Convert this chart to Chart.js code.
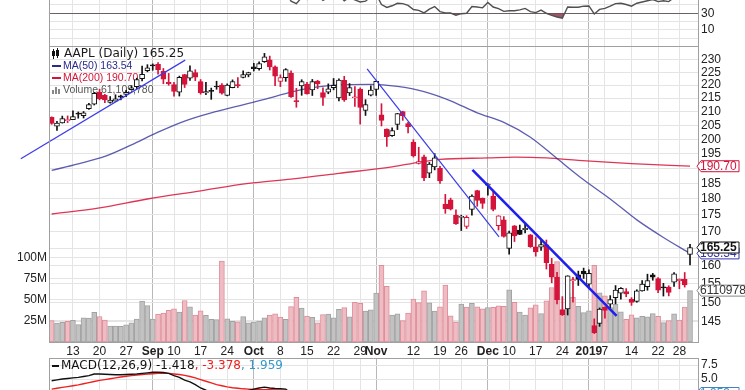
<!DOCTYPE html>
<html>
<head>
<meta charset="utf-8">
<script src="https://cdn.jsdelivr.net/npm/chart.js@4.4.1/dist/chart.umd.min.js"></script>
<style>
  body { margin:0; background:#fff; width:745px; height:390px; overflow:hidden; position:relative; }
  canvas { position:absolute; left:0; }
</style>
</head>
<body>
<canvas id="rsi" width="745" height="46" style="top:0"></canvas>
<canvas id="main" width="745" height="312" style="top:46px"></canvas>
<canvas id="macd" width="745" height="32" style="top:358px"></canvas>
<script>
// AAPL daily, 2018-08-07 .. 2019-01-30 (index 0 = Aug 7)
const opens = [207.85,204.61,205.83,206.64,206.98,209.43,208.49,211.01,212.70,217.34,
  216.05,213.35,213.90,215.85,216.39,218.25,219.38,222.47,225.72,227.62,
  228.19,225.44,221.08,220.18,217.25,224.16,222.74,224.96,221.38,217.03,
  217.74,219.47,220.01,216.07,218.99,220.23,223.04,224.01,227.16,226.46,
  229.25,229.98,227.17,221.44,222.86,224.68,213.77,219.65,220.39,218.17,
  221.53,217.10,217.30,219.03,215.08,221.83,216.95,215.15,218.43,210.42,
  216.13,218.29,208.82,203.59,201.22,205.25,209.98,205.55,199.00,191.63,
  193.90,188.39,190.50,190.00,178.37,179.73,174.94,174.24,171.51,176.73,
  182.66,180.29,184.46,180.95,171.76,173.49,165.00,171.66,170.40,170.49,
  169.00,165.45,165.38,166.00,160.40,156.86,148.15,148.30,155.84,157.50,
  158.53,154.89,143.98,144.53,148.70,149.56,151.29,152.50,152.88,150.85,
  150.27,153.08,154.20,157.50,156.41,154.15,154.11,155.48,155.79,156.25,163.25];
const highs = [208.03,206.36,208.31,208.37,210.22,209.83,210.01,213.07,217.19,218.42,
  216.43,215.61,216.29,216.15,217.98,219.77,222.71,227.47,228.07,228.38,
  228.87,226.56,224.59,221.08,223.52,224.22,227.56,226.05,222.17,221.08,
  218.86,221.51,220.59,220.49,222.04,222.97,225.65,225.05,228.62,229.20,
  232.66,231.54,227.62,224.02,226.48,225.56,218.74,222.10,221.06,222.21,
  221.87,218.98,220.49,222.58,222.47,223.45,220.61,219.42,218.93,214.43,
  219.68,221.59,212.91,203.68,204.01,209.33,210.12,206.01,199.85,197.18,
  194.48,191.97,194.97,190.70,181.47,180.27,176.60,174.95,174.77,181.29,
  182.80,180.33,184.94,182.39,174.78,174.49,170.09,171.79,171.92,172.57,
  169.08,168.35,167.53,167.45,162.11,158.16,151.55,157.23,156.77,158.52,
  159.36,158.85,145.72,148.55,148.83,151.82,154.53,153.97,153.70,151.27,
  153.39,155.88,157.66,157.88,156.73,155.14,154.48,158.13,156.33,158.13,166.15];
const lows = [205.31,203.09,205.75,205.95,206.98,207.54,207.61,210.73,212.42,214.36,
  213.29,213.10,213.85,214.36,215.58,218.16,218.65,221.63,225.21,225.84,
  224.32,220.53,219.94,215.72,215.81,219.07,221.80,221.75,216.51,216.36,
  214.55,218.39,216.53,215.88,218.94,219.00,222.76,223.24,225.56,225.84,
  228.98,225.94,219.81,219.43,221.48,215.30,211.58,216.09,216.51,216.01,
  218.58,212.26,216.67,218.18,213.95,213.79,215.99,211.93,205.37,208.54,
  215.87,216.06,204.72,197.48,200.99,203.42,206.75,202.25,193.79,191.45,
  185.93,186.90,189.46,184.99,175.51,176.55,172.10,170.26,170.88,174.93,
  177.70,177.03,181.21,176.27,170.42,168.30,163.33,167.00,169.02,169.55,
  165.28,162.73,164.39,159.09,155.30,149.63,146.59,146.72,150.07,154.55,
  156.48,154.23,142.00,143.80,145.90,148.52,149.63,150.86,151.51,149.22,
  150.05,153.00,153.26,155.98,152.62,151.70,151.74,154.32,153.66,154.11,160.23];
const closes = [205.66,205.80,207.42,206.81,208.14,209.02,209.51,212.58,216.82,214.71,
  214.29,214.30,214.74,215.41,217.18,218.94,222.20,224.25,226.84,227.57,
  226.08,222.32,220.53,217.57,223.07,220.30,225.62,223.06,217.12,217.48,
  217.61,219.26,216.90,220.02,221.42,219.65,224.17,224.95,226.47,228.48,
  231.26,227.20,223.51,222.99,226.08,215.61,213.70,221.34,216.60,221.38,
  220.42,215.27,218.55,219.88,221.95,214.34,219.04,215.55,211.50,212.56,
  218.10,221.45,206.76,200.89,203.06,209.22,208.49,204.47,194.17,192.23,
  186.80,191.41,193.53,185.86,176.98,176.78,172.29,174.62,174.24,180.94,
  179.55,178.58,184.82,176.69,174.72,168.49,169.60,168.63,169.10,170.95,
  165.48,163.94,166.07,160.89,156.83,150.73,146.83,157.17,156.15,156.23,
  157.74,157.92,142.19,148.26,147.93,150.75,153.31,153.80,152.29,150.00,
  153.07,154.94,155.86,156.82,153.30,153.92,152.70,157.76,156.30,154.68,165.25];
const prevClose = 207.61;
// volume, millions of shares
const volumes = [25.4,22.5,23.5,24.6,25.9,20.7,28.8,28.5,35.4,30.3,
  26.2,19.0,18.9,18.5,20.5,22.8,27.3,48.8,43.3,27.4,
  33.3,34.3,37.6,39.5,35.7,49.3,41.7,31.9,37.2,31.6,
  27.1,26.6,96.2,27.7,24.6,24.0,30.2,22.9,23.6,24.8,
  28.7,32.0,33.6,29.7,26.9,42.0,53.1,40.3,30.8,29.2,
  22.9,32.6,33.1,28.8,38.8,40.9,29.9,47.3,45.9,36.7,
  38.4,58.3,91.3,66.2,31.9,33.4,25.4,34.4,51.1,46.9,
  60.8,46.5,36.9,41.9,67.8,31.1,23.6,45.0,41.4,46.1,
  41.8,39.5,40.8,41.3,43.1,42.3,62.0,47.3,35.6,31.9,
  40.7,44.3,33.8,49.0,64.8,95.7,37.2,58.6,53.1,42.3,
  35.0,37.0,91.3,58.6,54.8,41.0,45.1,35.8,27.0,32.4,
  28.7,30.6,29.8,33.8,30.4,23.1,25.4,33.5,26.2,41.6,61.11];
const volumeLast = 61109780;

const ma50At = [0,5,10,15,20,25,30,35,40,45,50,55,60,65,70,75,80,85,90,95,100,105,110,115,120];
const ma50 = [189.3,191.5,194.0,198.0,202.5,206.5,209.5,212.0,214.5,217.3,219.3,220.2,220.3,219.5,217.5,214.0,209.5,206.0,200.7,193.3,186.2,180.0,173.5,168.2,163.54];
const ma200At = [0,9,18,28,37,45,54,64,69,73,82,87,93,99,109,120];
const ma200 = [175.3,177.2,180.0,182.6,185.0,186.4,188.3,190.5,192.0,193.0,193.5,193.8,193.5,192.7,191.6,190.70];

// drawn trend lines: [index, price] -> [index, price]
const trendA = [[-5.8, 193.2], [25.1, 229.9]];
const trendB = [[59.3, 226.4], [84.1, 168.4]];
const trendC = [[79.1, 189.5], [106.2, 146.5]];

const rsi = [62,62,64,61,63,65,66,70,75,70,
  68,68,68,69,71,73,76,78,80,80,
  75,67,64,58,64,60,64,60,52,53,
  53,55,52,56,57,55,60,61,62,64,
  67,58,53,52,56,44.5,41.5,49,46.5,52,
  51,45.5,49,50,52,45,49,46,43.5,44.5,
  50,53,40.5,37,39,42,41.5,39.5,34.5,33.5,
  30.5,35,38,32,30.5,30.3,27.5,29.5,30,38,
  37.5,36.5,43,37.5,35.5,32.3,33,33,34,35.8,
  32,30.8,33.8,30,27.5,25.5,24,37.5,37.2,37.3,
  38.5,38.8,29.2,34.7,35.8,38.5,41.5,42,40.5,38.5,
  42,43.5,45,46.5,44,45,44,49,48,47,60];

const macdLine = [4.7,4.85,5.0,5.1,5.2,5.3,5.45,5.6,5.9,5.9,
  5.85,5.8,5.75,5.75,5.8,5.85,5.9,6.0,6.1,6.2,
  6.2,6.15,6.0,5.6,5.3,4.8,4.5,4.0,3.4,3.0,
  2.7,2.6,2.4,2.35,2.4,2.5,2.7,2.95,3.2,3.4,
  3.55,3.4,3.3,3.25,3.2,2.3,1.4,1.3,0.9,0.9,0.8,0.4,0.2];
const macdSignal = [3.2,3.35,3.5,3.65,3.8,3.95,4.15,4.35,4.55,4.75,
  4.9,5.05,5.2,5.35,5.5,5.6,5.7,5.8,5.9,5.95,
  6.0,6.0,6.0,5.9,5.8,5.65,5.45,5.2,4.9,4.6,
  4.3,4.0,3.8,3.6,3.45,3.35,3.25,3.2,3.15,3.1,
  3.1,3.1,3.05,3.0,3.0,2.85,2.55,2.3,2.0,1.8,1.6,1.4,1.2];
const macdLast = [-1.418, -3.378, 1.959];

const tickAt = [4,9,14,19,23,28,33,38,43,48,53,58,61,68,73,77,82,86,91,96,101,104,109,114,118];
const tickText = ['13','20','27','Sep','10','17','24','Oct','8','15','22','29','Nov','12','19','26','Dec','10','17','24','2019','7','14','22','28'];
const monthAt = [19,38,61,82,101];
const priceTicks = [145,150,155,160,165,170,175,180,185,190,195,200,205,210,215,220,225,230];
const volTicks = [25,50,75,100];
const rsiTicks = [0,10,20,30,40];
const rsiLabels = [10,30];
const macdTicks = [5,7.5];

// ---- look ----
const FONT = '"Liberation Sans", Arial, sans-serif';
const border = '#a0a0a0';
const gridLight = '#e4e4e4';
const gridMonth = '#b8b8b8';
const redC = '#d4143a';
const xRange = { min: -0.5, max: 121.5 };

Chart.defaults.animation = false;
Chart.defaults.font.family = FONT;
Chart.defaults.plugins.legend.display = false;
Chart.defaults.plugins.tooltip.enabled = false;

function fit(w, h) {
  return s => {
    if (w !== undefined) s.width = w;
    if (h !== undefined) s.height = h;
    s.paddingTop = s.paddingBottom = s.paddingLeft = s.paddingRight = 0;
  };
}
function xAxis(showLabels) {
  return {
    type: 'linear', min: xRange.min, max: xRange.max, offset: false,
    afterBuildTicks: s => { s.ticks = tickAt.map(v => ({ value: v })); },
    afterFit: fit(undefined, showLabels ? 16 : 0),
    ticks: {
      display: showLabels, autoSkip: false, maxRotation: 0, padding: 2, color: '#222',
      font: c => ({ family: FONT, size: 12, weight: c.tick && monthAt.includes(c.tick.value) ? 'bold' : 'normal' }),
      callback: (v, k) => tickText[k]
    },
    grid: { color: c => (c.tick && monthAt.includes(c.tick.value)) ? gridMonth : gridLight, drawTicks: false, offset: false },
    border: { display: showLabels, color: border }
  };
}
function yTicks(cb) {
  return { callback: cb, autoSkip: false, padding: 3, color: '#222', font: { size: 12 } };
}
function frame(chart, top) {
  const { ctx, chartArea: a } = chart;
  ctx.save();
  ctx.strokeStyle = border; ctx.lineWidth = 1;
  ctx.beginPath();
  ctx.moveTo(a.left + 0.5, a.top); ctx.lineTo(a.left + 0.5, a.bottom);
  ctx.moveTo(a.right + 0.5, a.top); ctx.lineTo(a.right + 0.5, a.bottom);
  if (top) { ctx.moveTo(a.left, a.top + 0.5); ctx.lineTo(a.right, a.top + 0.5); }
  ctx.stroke();
  ctx.restore();
}
function tag(ctx, y, text, stroke, color, bold, x1) {
  const x0 = 697, h = 11;
  ctx.beginPath();
  ctx.moveTo(x0, y); ctx.lineTo(x0 + 4, y - h / 2); ctx.lineTo(x1, y - h / 2);
  ctx.lineTo(x1, y + h / 2); ctx.lineTo(x0 + 4, y + h / 2); ctx.closePath();
  ctx.fillStyle = '#fff'; ctx.fill();
  ctx.strokeStyle = stroke; ctx.lineWidth = 1; ctx.stroke();
  ctx.fillStyle = color;
  ctx.font = (bold ? 'bold ' : '') + '12px ' + FONT;
  ctx.textAlign = 'left'; ctx.textBaseline = 'middle';
  ctx.fillText(text, x0 + 3, y + 0.5);
}

// ---- candles ----
const isUp = closes.map((c, i) => c >= (i ? closes[i - 1] : prevClose));
const hollow = closes.map((c, i) => c > opens[i]);
const candleCol = isUp.map(u => u ? '#111' : redC);

const mainDecor = {
  id: 'mainDecor',
  beforeDatasetsDraw(chart) {
    const ctx = chart.ctx;
    ctx.save();
    ctx.textAlign = 'left'; ctx.textBaseline = 'middle';
    // candle glyph
    ctx.fillStyle = '#111';
    ctx.fillRect(53, 3, 1, 10); ctx.fillRect(52, 5, 3, 5);
    ctx.fillRect(57, 2, 1, 10); ctx.fillRect(56, 4, 3, 6);
    ctx.font = '12px "DejaVu Sans"'; ctx.fillStyle = '#1a1a1a';
    ctx.fillText('AAPL (Daily) ' + closes[closes.length - 1].toFixed(2), 64, 8);
    // MA rows
    ctx.lineWidth = 2;
    ctx.strokeStyle = '#2a2a8c'; ctx.beginPath(); ctx.moveTo(52, 20); ctx.lineTo(61, 20); ctx.stroke();
    ctx.strokeStyle = redC; ctx.beginPath(); ctx.moveTo(52, 32); ctx.lineTo(61, 32); ctx.stroke();
    ctx.font = '10.5px ' + FONT;
    ctx.fillStyle = '#2a2a8c'; ctx.fillText('MA(50) ' + ma50[ma50.length - 1].toFixed(2), 63, 20);
    ctx.fillStyle = redC; ctx.fillText('MA(200) ' + ma200[ma200.length - 1].toFixed(2), 63, 32);
    // volume glyph
    ctx.fillStyle = '#888';
    ctx.fillRect(52, 44, 2, 4); ctx.fillRect(55, 41, 2, 7); ctx.fillRect(58, 43, 2, 5);
    ctx.fillStyle = '#555';
    ctx.fillText('Volume ' + volumeLast.toLocaleString('en-US'), 63, 44);
    ctx.restore();
  },
  afterDraw(chart) {
    frame(chart, true);
    const { ctx, scales } = chart;
    ctx.save();
    const m200 = ma200[ma200.length - 1], m50 = ma50[ma50.length - 1], last = closes[closes.length - 1];
    tag(ctx, scales.y.getPixelForValue(m200), m200.toFixed(2), redC, redC, false, 739);
    tag(ctx, scales.y.getPixelForValue(m50), m50.toFixed(2), '#3434b0', '#3434b0', false, 739);
    tag(ctx, scales.y.getPixelForValue(last), last.toFixed(2), '#111', '#111', true, 739);
    tag(ctx, scales.yv.getPixelForValue(volumes[volumes.length - 1]), String(volumeLast), '#888', '#333', false, 770);
    ctx.restore();
  }
};

const lineDs = (pts, color, width, order, extra) => Object.assign({
  type: 'line', data: pts.map(p => ({ x: p[0], y: p[1] })), borderColor: color, borderWidth: width,
  pointRadius: 0, yAxisID: 'y', order: order
}, extra || {});

new Chart(document.getElementById('main'), {
  data: {
    datasets: [
      lineDs(trendA, '#3b3bea', 1.2, 0, { clip: false }),
      lineDs(trendB, '#3b3bea', 1.2, 0, { clip: false }),
      lineDs(trendC, '#1f1fee', 2.6, 0, { clip: false }),
      {
        type: 'bar', data: closes.map((c, i) => ({ x: i, y: [opens[i], c] })),
        backgroundColor: hollow.map((h, i) => h ? '#fff' : candleCol[i]),
        borderColor: candleCol, borderWidth: 1, borderSkipped: false,
        barThickness: 5, minBarLength: 1, grouped: false, yAxisID: 'y', order: 1
      },
      {
        type: 'bar', data: closes.map((c, i) => ({ x: i, y: [lows[i], highs[i]] })),
        backgroundColor: candleCol, borderWidth: 0,
        barThickness: 1, grouped: false, yAxisID: 'y', order: 2
      },
      lineDs(ma50At.map((x, k) => [x, ma50[k]]), 'rgba(40,40,150,0.75)', 1.3, 3, { cubicInterpolationMode: 'monotone' }),
      lineDs(ma200At.map((x, k) => [x, ma200[k]]), 'rgba(215,20,55,0.85)', 1.3, 3, { cubicInterpolationMode: 'monotone' }),
      {
        type: 'bar', data: volumes.map((v, i) => ({ x: i, y: v })),
        backgroundColor: isUp.map(u => u ? '#c2c2c2' : '#efbcc3'),
        borderColor: isUp.map(u => u ? '#a2a2a2' : '#de8e99'),
        borderWidth: 1, borderSkipped: false,
        barThickness: 5, grouped: false, yAxisID: 'yv', order: 6
      }
    ]
  },
  options: {
    responsive: false, devicePixelRatio: 1,
    layout: { padding: 0 },
    scales: {
      x: xAxis(true),
      y: {
        type: 'logarithmic', position: 'right', min: 139.9, max: 235.7,
        afterBuildTicks: s => { s.ticks = priceTicks.map(v => ({ value: v })); },
        afterFit: fit(47),
        ticks: yTicks(v => String(v)),
        grid: { color: gridLight, drawTicks: false },
        border: { color: border }
      },
      yv: {
        type: 'linear', position: 'left', min: 0, max: 352,
        afterBuildTicks: s => { s.ticks = volTicks.map(v => ({ value: v })); },
        afterFit: fit(49),
        ticks: Object.assign(yTicks(v => v + 'M'), { padding: 2 }),
        grid: { color: gridLight, drawTicks: false },
        border: { color: border }
      }
    }
  },
  plugins: [mainDecor]
});

// ---- RSI strip (only its lower part is in view) ----
new Chart(document.getElementById('rsi'), {
  type: 'line',
  data: {
    datasets: [{
      data: rsi.map((v, i) => ({ x: i, y: v })),
      borderColor: '#505050', borderWidth: 1.4, pointRadius: 0,
      fill: { target: { value: 30 }, above: 'rgba(0,0,0,0)', below: 'rgba(135,45,65,0.8)' }
    }]
  },
  options: {
    responsive: false, devicePixelRatio: 1,
    layout: { padding: { left: 49 } },
    scales: {
      x: xAxis(false),
      y: {
        type: 'linear', position: 'right', min: -9.2, max: 45.9,
        afterBuildTicks: s => { s.ticks = rsiTicks.map(v => ({ value: v })); },
        afterFit: fit(47),
        ticks: yTicks(v => rsiLabels.includes(v) ? String(v) : ''),
        grid: { color: c => c.tick && c.tick.value === 30 ? '#6a6a6a' : gridLight, drawTicks: false },
        border: { display: false }
      }
    }
  },
  plugins: [{ id: 'rsiFrame', afterDraw: c => frame(c, false) }]
});

// ---- MACD strip (top part only) ----
new Chart(document.getElementById('macd'), {
  type: 'line',
  data: {
    datasets: [
      { data: macdLine.map((v, i) => ({ x: i, y: v })), borderColor: '#111', borderWidth: 1.4, pointRadius: 0, order: 0 },
      { data: macdSignal.map((v, i) => ({ x: i, y: v })), borderColor: '#f02020', borderWidth: 1.4, pointRadius: 0, order: 1 }
    ]
  },
  options: {
    responsive: false, devicePixelRatio: 1,
    layout: { padding: { left: 49 } },
    scales: {
      x: xAxis(false),
      y: {
        type: 'linear', position: 'right', min: 3.04, max: 8.75,
        afterBuildTicks: s => { s.ticks = macdTicks.map(v => ({ value: v })); },
        afterFit: fit(47),
        ticks: yTicks(v => v.toFixed(1)),
        grid: { color: gridLight, drawTicks: false },
        border: { display: false }
      }
    }
  },
  plugins: [{
    id: 'macdDecor',
    afterDraw(chart) {
      frame(chart, true);
      const { ctx, chartArea } = chart;
      ctx.save();
      ctx.fillStyle = '#111'; ctx.fillRect(52, 7, 7, 2);
      ctx.font = '12px "DejaVu Sans"'; ctx.textAlign = 'left'; ctx.textBaseline = 'middle';
      const parts = [['MACD(12,26,9) ' + macdLast[0].toFixed(3), '#111'],
                     [', ' + macdLast[1].toFixed(3), '#ee2020'],
                     [', ' + macdLast[2].toFixed(3), '#3399cc']];
      let x = 61;
      parts.forEach(([t, col]) => { ctx.fillStyle = col; ctx.fillText(t, x, 8); x += ctx.measureText(t).width; });
      // value tag sits just below the visible strip, only its top edge shows
      tag(ctx, chartArea.bottom + 3, macdLast[2].toFixed(3), '#4a7fc0', '#3399cc', false, 739);
      ctx.restore();
    }
  }]
});
</script>
</body>
</html>
